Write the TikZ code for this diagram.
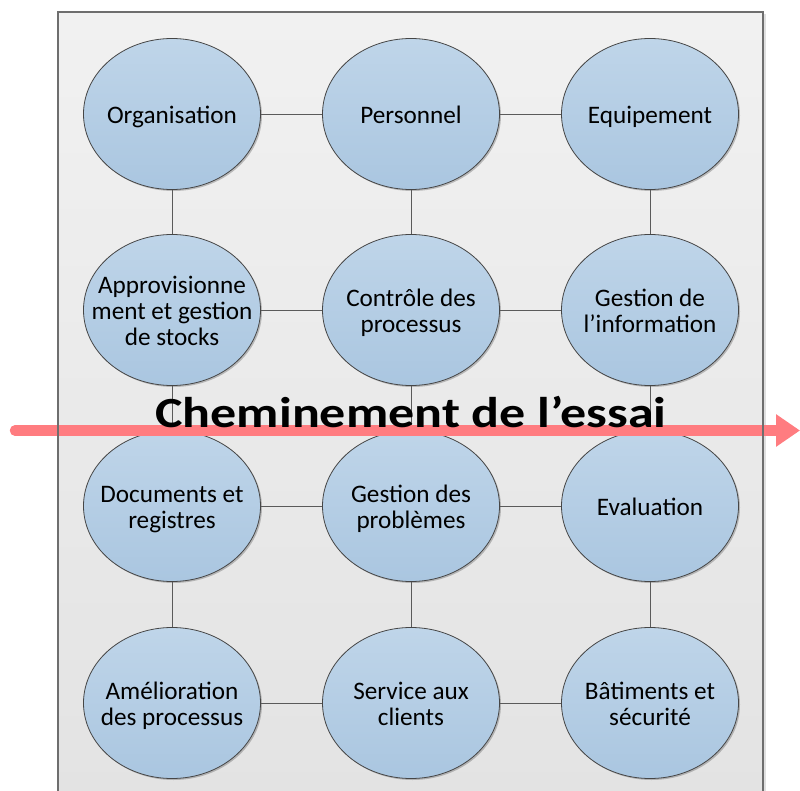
\documentclass[tikz,border=0pt]{standalone}
\usepackage{fontspec}
\setmainfont{Carlito}
\usetikzlibrary{shapes.geometric,arrows.meta,shadows}
\definecolor{bgtop}{RGB}{241,241,241}
\definecolor{bgbot}{RGB}{227,227,227}
\definecolor{bubtop}{RGB}{191,213,233}
\definecolor{bubbot}{RGB}{170,198,224}
\definecolor{bubline}{RGB}{70,70,70}
\definecolor{linkcol}{RGB}{90,90,90}
\definecolor{arrowred}{RGB}{255,124,128}
\definecolor{frame}{RGB}{110,110,110}
\newcommand\bubtext[1]{\rule{0pt}{18pt}#1\rule[-4pt]{0pt}{4pt}}
\tikzset{
  bub/.style={ellipse, minimum width=177pt, minimum height=151pt, inner sep=0pt,
    draw=bubline, line width=0.8pt, top color=bubtop, bottom color=bubbot,
    drop shadow={shadow xshift=1.5pt, shadow yshift=-1.5pt, opacity=0.22, fill=black}},
  lbl/.style={align=center, font=\fontsize{25.2}{25.8}\selectfont, inner sep=0pt, yshift=-2.5pt},
  link/.style={draw=linkcol, line width=0.9pt},
}
\begin{document}
\begin{tikzpicture}[x=1pt,y=-1pt]
\useasboundingbox (0,0) rectangle (800,791);
% background panel
\fill[black, opacity=0.12] (60.5,14.5) rectangle (765.5,800);
\fill[top color=bgtop, bottom color=bgbot] (58,12) rectangle (763,800);
% nodes
\node[bub, label={[lbl]center:\bubtext{Organisation}}] (org) at (172,114) {};
\node[bub, label={[lbl]center:\bubtext{Personnel}}] (per) at (411,114) {};
\node[bub, label={[lbl]center:\bubtext{Equipement}}] (equ) at (650,114) {};
\node[bub, label={[lbl]center:\bubtext{Approvisionne\\ment et gestion\\de stocks}}] (app) at (172,310) {};
\node[bub, label={[lbl]center:\bubtext{Contrôle des\\processus}}] (con) at (411,310) {};
\node[bub, label={[lbl]center:\bubtext{Gestion de\\l’information}}] (inf) at (650,310) {};
\node[bub, label={[lbl]center:\bubtext{Documents et\\registres}}] (doc) at (172,506) {};
\node[bub, label={[lbl]center:\bubtext{Gestion des\\problèmes}}] (pro) at (411,506) {};
\node[bub, label={[lbl]center:\bubtext{Evaluation}}] (eva) at (650,506) {};
\node[bub, label={[lbl]center:\bubtext{Amélioration\\des processus}}] (ame) at (172,703) {};
\node[bub, label={[lbl]center:\bubtext{Service aux\\clients}}] (ser) at (411,703) {};
\node[bub, label={[lbl]center:\bubtext{Bâtiments et\\sécurité}}] (bat) at (650,703) {};
% connectors
\path[link] (org) -- (per) (per) -- (equ)
  (app) -- (con) (con) -- (inf)
  (doc) -- (pro) (pro) -- (eva)
  (ame) -- (ser) (ser) -- (bat)
  (org) -- (app) (app) -- (doc) (doc) -- (ame)
  (per) -- (con) (con) -- (pro) (pro) -- (ser)
  (equ) -- (inf) (inf) -- (eva) (eva) -- (bat);
% arrow
\coordinate (as) at (15,430.5);
\coordinate (ae) at (800,430.5);
\draw[arrowred, line width=10.5pt, line cap=round, -{Triangle[width=31pt,length=24pt]}] (as) -- (ae);
% frame
\draw[frame, line width=1.2pt] (58,800) -- (58,12) -- (763,12) -- (763,800);
% title
\node[anchor=base, inner sep=0pt, font=\bfseries\fontsize{43}{43}\selectfont] (title) at (411,427)
  {\scalebox{1.21}[1]{Cheminement de l’essai}};
\end{tikzpicture}
\end{document}
